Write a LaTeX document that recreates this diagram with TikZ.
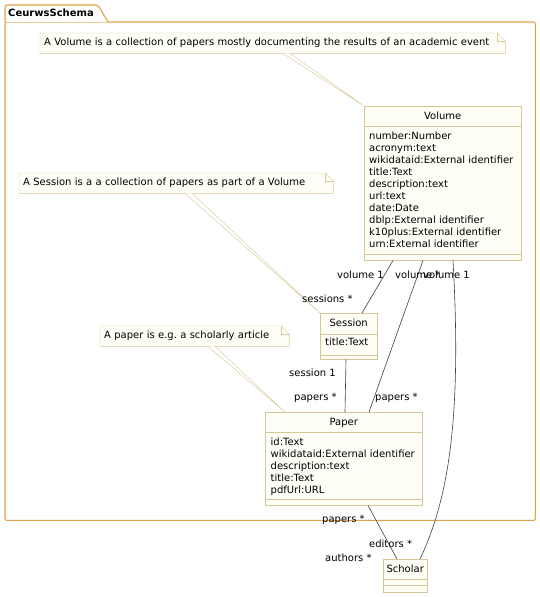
\documentclass[tikz,border=0pt]{standalone}
\usepackage{fontspec}
\setmainfont{DejaVu Sans}
\usepackage{xcolor}
\definecolor{pkgorange}{RGB}{228,162,72}
\definecolor{boxtan}{RGB}{214,200,150}
\definecolor{boxcream}{RGB}{254,254,246}
\newcommand{\umlnote}[1]{% outline of note #1, folded corner 8pt
  \fill[white] ([xshift=-8pt]#1.north east) -- (#1.north east) -- ([yshift=-8pt]#1.north east) -- cycle;
  \draw[boxtan] (#1.south west) -- (#1.north west) -- ([xshift=-8pt]#1.north east) -- ([yshift=-8pt]#1.north east) -- (#1.south east) -- cycle;
  \draw[boxtan] ([xshift=-8pt]#1.north east) -- ([xshift=-8pt,yshift=-8pt]#1.north east) -- ([yshift=-8pt]#1.north east);
}
\newcommand{\umlparts}[3]{% class #1: line #2 below top, line #3 above bottom
  \draw[boxtan] ([yshift=-#2pt]#1.north west) -- ([yshift=-#2pt]#1.north east);
  \draw[boxtan] ([yshift=#3pt]#1.south west) -- ([yshift=#3pt]#1.south east);
}
\frenchspacing

\begin{document}
\begin{tikzpicture}[x=1pt,y=-1pt,font=\fontsize{10}{12}\selectfont,
  pkgline/.style={draw=pkgorange,line width=1.1pt,rounded corners=2pt},
  classbox/.style={draw=boxtan,fill=boxcream,anchor=north west,inner sep=0pt},
  notebox/.style={fill=boxcream,anchor=north west,inner xsep=4pt,inner ysep=0pt,minimum height=20pt,align=left},
  notelink/.style={draw=boxtan,fill=white,line width=0.4pt},
  attr/.style={anchor=base west,inner sep=0pt},
  role/.style={anchor=base west,inner sep=0pt},
  assoc/.style={draw=black!75,line width=0.6pt}]
  \useasboundingbox (0,0) rectangle (540,597);

  % package frame and tab
  \node[fill=white,anchor=north west,minimum width=530pt,minimum height=498pt,inner sep=0pt] (schema) at (5,22) {};
  \draw[pkgline] (schema.south west) rectangle (schema.north east);
  \draw[pkgline,fill=white] (schema.north west) -- (5,5) -- (98,5) -- (108,22);
  \node[anchor=base west,inner sep=0pt,font=\fontsize{10}{12}\selectfont\bfseries] (schematab) at (8,16.5) {CeurwsSchema};

  % notes
  \node[notebox,text width=457pt] (volnote) at (40,33) {A Volume is a collection of papers mostly documenting the results of an academic event};\umlnote{volnote}
  \node[notebox,text width=306pt] (sesnote) at (19,173) {A Session is a a collection of papers as part of a Volume};\umlnote{sesnote}
  \node[notebox,text width=181pt] (papnote) at (100,326) {A paper is e.g. a scholarly article};\umlnote{papnote}

  % classes
  \node[classbox,minimum width=157pt,minimum height=154pt] (volume) at (364,106) {};\umlparts{volume}{20}{6}
  \node[anchor=base,inner sep=0pt] (volumename) at ([yshift=-13pt]volume.north) {Volume};
  \foreach \attr [count=\i, evaluate=\i as \dy using 33.5+12*(\i-1)] in
    {number:Number,acronym:text,wikidataid:External identifier,title:Text,description:text,
     url:text,date:Date,dblp:External identifier,k10plus:External identifier,urn:External identifier}
    \node[attr] at ([xshift=5pt,yshift=-\dy pt]volume.north west) {\attr};

  \node[classbox,minimum width=57pt,minimum height=46pt] (session) at (320,313) {};\umlparts{session}{21}{4}
  \node[anchor=base,inner sep=0pt] (sessionname) at ([yshift=-13pt]session.north) {Session};
  \node[attr] at ([xshift=5pt,yshift=-32.7pt]session.north west) {title:Text};

  \node[classbox,minimum width=157pt,minimum height=93pt] (paper) at (265,412) {};\umlparts{paper}{20}{6}
  \node[anchor=base,inner sep=0pt] (papername) at ([yshift=-13pt]paper.north) {Paper};
  \foreach \attr [count=\i, evaluate=\i as \dy using 33+12*(\i-1)] in
    {id:Text,wikidataid:External identifier,description:text,title:Text,pdfUrl:URL}
    \node[attr] at ([xshift=5.5pt,yshift=-\dy pt]paper.north west) {\attr};

  \node[classbox,minimum width=44pt,minimum height=33pt] (scholar) at (383,559) {};\umlparts{scholar}{20}{7}
  \node[anchor=base,inner sep=0pt] (scholarname) at ([yshift=-13.5pt]scholar.north) {Scholar};

  % note links
  \draw[notelink] ([xshift=243pt]volnote.south west) -- (volume.north west) -- ([xshift=250pt]volnote.south west);
  \draw[notelink] ([xshift=166pt]sesnote.south west) -- (session.north west) -- ([xshift=173pt]sesnote.south west);
  \draw[notelink] ([xshift=108pt]papnote.south west) -- ([xshift=20pt]paper.north west) -- ([xshift=115pt]papnote.south west);

  % associations
  \draw[assoc] ([xshift=29pt]volume.south west) -- ([xshift=42pt]session.north west);
  \draw[assoc] ([xshift=59pt]volume.south west) -- ([xshift=104pt]paper.north west);
  \draw[assoc] ([xshift=89pt]volume.south west) .. controls +(9,160) and +(28,-59) .. ([xshift=37pt]scholar.north west);
  \draw[assoc] ([xshift=26pt]session.south west) -- ([xshift=80pt]paper.north west);
  \draw[assoc] ([xshift=103pt]paper.south west) -- ([xshift=14pt]scholar.north west);

  % role names
  \node[role] (volsesvol) at (337,278.3) {volume 1};
  \node[role] (volsesses) at (302,302.7) {sessions *};
  \node[role] (volpapvol) at (395,278.3) {volume *};
  \node[role] (volpappap) at (375,400) {papers *};
  \node[role] (volschvol) at (423,278.3) {volume 1};
  \node[role] (volschedi) at (369,547.7) {editors *};
  \node[role] (sespapses) at (289,376.7) {session 1};
  \node[role] (sespappap) at (294,400) {papers *};
  \node[role] (papschpap) at (322,522) {papers *};
  \node[role] (papschaut) at (325,561.7) {authors *};
\end{tikzpicture}
\end{document}
